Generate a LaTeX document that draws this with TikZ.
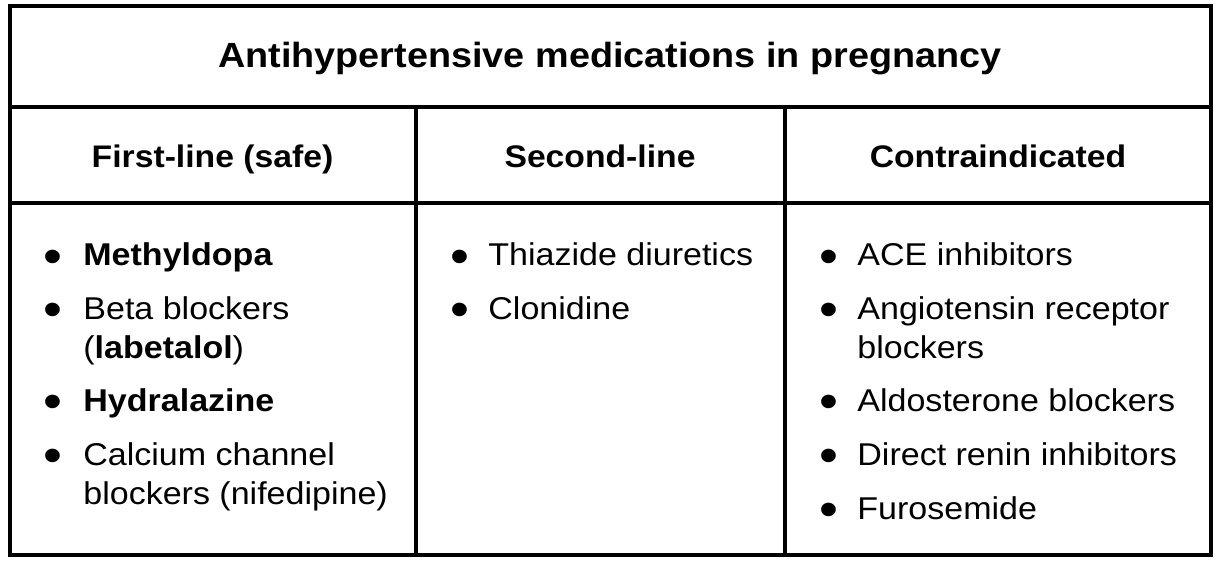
\documentclass[tikz,border=0pt]{standalone}
\usepackage{fontspec}
\setmainfont[FakeStretch=1.08]{Liberation Sans}
\usepackage{tikz}

\tikzset{
	tableline/.style={line width=2pt},
	colhead/.style={anchor=base, inner sep=0pt, font=\fontsize{15.6}{19}\selectfont\bfseries},
	entry/.style={anchor=base west, inner sep=0pt, font=\fontsize{15.75}{19}\selectfont},
	itemdot/.style={anchor=center, inner sep=0pt, font=\fontsize{25}{25}\selectfont}
}

\begin{document}
\begin{tikzpicture}[x=0.5pt, y=-0.5pt]
			\useasboundingbox (0,0) rectangle (1218,566);

			% table frame
			\draw[tableline] (9.5,6) rectangle (1210.5,555);
			\draw[tableline] (9.5,107.5) -- (1210.5,107.5);
			\draw[tableline] (9.5,203) -- (1210.5,203);
			\draw[tableline] (415.5,107.5) -- (415.5,555);
			\draw[tableline] (785,107.5) -- (785,555);

			% title and column heads
			\node[anchor=base, inner sep=0pt, font=\fontsize{17.5}{21}\selectfont\bfseries] (title) at (610,68) {Antihypertensive medications in pregnancy};
			\node[colhead] (first) at (212.5,168) {First-line (safe)};
			\node[colhead] (second) at (600,168) {Second-line};
			\node[colhead] (contra) at (998,168) {Contraindicated};

			% first-line
			\node[itemdot] (d1) at (53,262) {\textbullet};
			\node[entry] (methyl) at (83,266) {\textbf{Methyldopa}};
			\node[itemdot] (d2) at (53,315) {\textbullet};
			\node[entry] (beta) at (83,319) {Beta blockers};
			\node[entry] (labet) at (83,358) {(\textbf{labetalol})};
			\node[itemdot] (d3) at (53,407) {\textbullet};
			\node[entry] (hydral) at (83,411) {\textbf{Hydralazine}};
			\node[itemdot] (d4) at (53,461) {\textbullet};
			\node[entry] (calc) at (83,465) {Calcium channel};
			\node[entry] (nifed) at (83,504) {blockers (nifedipine)};

			% second-line
			\node[itemdot] (d5) at (460,262) {\textbullet};
			\node[entry] (thiaz) at (488,266) {Thiazide diuretics};
			\node[itemdot] (d6) at (460,315) {\textbullet};
			\node[entry] (clon) at (488,319) {Clonidine};

			% contraindicated
			\node[itemdot] (d7) at (829,262) {\textbullet};
			\node[entry] (ace) at (857,266) {ACE inhibitors};
			\node[itemdot] (d8) at (829,315) {\textbullet};
			\node[entry] (arb) at (857,319) {Angiotensin receptor};
			\node[entry] (arb2) at (857,358) {blockers};
			\node[itemdot] (d9) at (829,407) {\textbullet};
			\node[entry] (aldo) at (857,411) {Aldosterone blockers};
			\node[itemdot] (d10) at (829,461) {\textbullet};
			\node[entry] (renin) at (857,465) {Direct renin inhibitors};
			\node[itemdot] (d11) at (829,515) {\textbullet};
			\node[entry] (furo) at (857,519) {Furosemide};
		\end{tikzpicture}
\end{document}
